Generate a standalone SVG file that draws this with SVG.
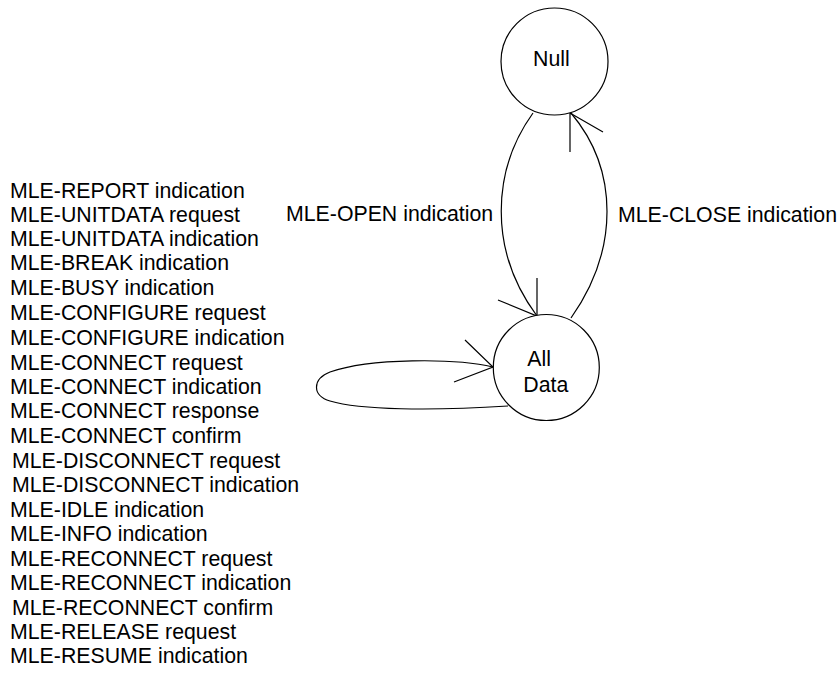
<svg xmlns="http://www.w3.org/2000/svg" width="839" height="684" viewBox="0 0 839 684">
<style>
text{font-family:"Liberation Sans",Arial,sans-serif;font-size:21.3px;fill:#000}
.st{fill:#fff;stroke:#000;stroke-width:1.2}
.cn{fill:none;stroke:#000;stroke-width:1.2}
</style>
<rect width="839" height="684" fill="#fff"/>
<g id="connectors">
<g id="open">
<path class="cn" d="M533,113 C492,170 488,250 537,316"/>
<path class="cn" d="M537,278 L537,316 L498,300"/>
</g>
<g id="close">
<path class="cn" d="M571,318 C619,250 619,170 571,113"/>
<path class="cn" d="M570,152 L570,113 L603,132"/>
</g>
<g id="loop">
<path class="cn" d="M493,367 C455,358 370,358 330,372 C312,379 312,396 330,401 C360,410 430,411 508,406"/>
<path class="cn" d="M465,340 L493,367 L454,382"/>
</g>
</g>
<g id="null">
<circle class="st" cx="554.5" cy="61.5" r="53.5"/>
<text x="533" y="66">Null</text>
</g>
<g id="alldata">
<circle class="st" cx="546.3" cy="367.5" r="53"/>
<text x="527.3" y="366">All</text>
<text x="523.3" y="392">Data</text>
</g>
<g id="labels">
<text x="286" y="221">MLE-OPEN indication</text>
<text x="618" y="222">MLE-CLOSE indication</text>
</g>
<g id="list">
<text x="10" y="198">MLE-REPORT indication</text>
<text x="10" y="222">MLE-UNITDATA request</text>
<text x="10" y="246">MLE-UNITDATA indication</text>
<text x="10" y="270">MLE-BREAK indication</text>
<text x="10" y="295">MLE-BUSY indication</text>
<text x="10" y="320">MLE-CONFIGURE request</text>
<text x="10" y="345">MLE-CONFIGURE indication</text>
<text x="10" y="370">MLE-CONNECT request</text>
<text x="10" y="394">MLE-CONNECT indication</text>
<text x="10" y="418">MLE-CONNECT response</text>
<text x="10" y="443">MLE-CONNECT confirm</text>
<text x="12" y="468">MLE-DISCONNECT request</text>
<text x="12" y="492">MLE-DISCONNECT indication</text>
<text x="10" y="517">MLE-IDLE indication</text>
<text x="10" y="541">MLE-INFO indication</text>
<text x="10" y="566">MLE-RECONNECT request</text>
<text x="10" y="590">MLE-RECONNECT indication</text>
<text x="12" y="615">MLE-RECONNECT confirm</text>
<text x="10" y="639">MLE-RELEASE request</text>
<text x="10" y="663">MLE-RESUME indication</text>
</g>
</svg>
